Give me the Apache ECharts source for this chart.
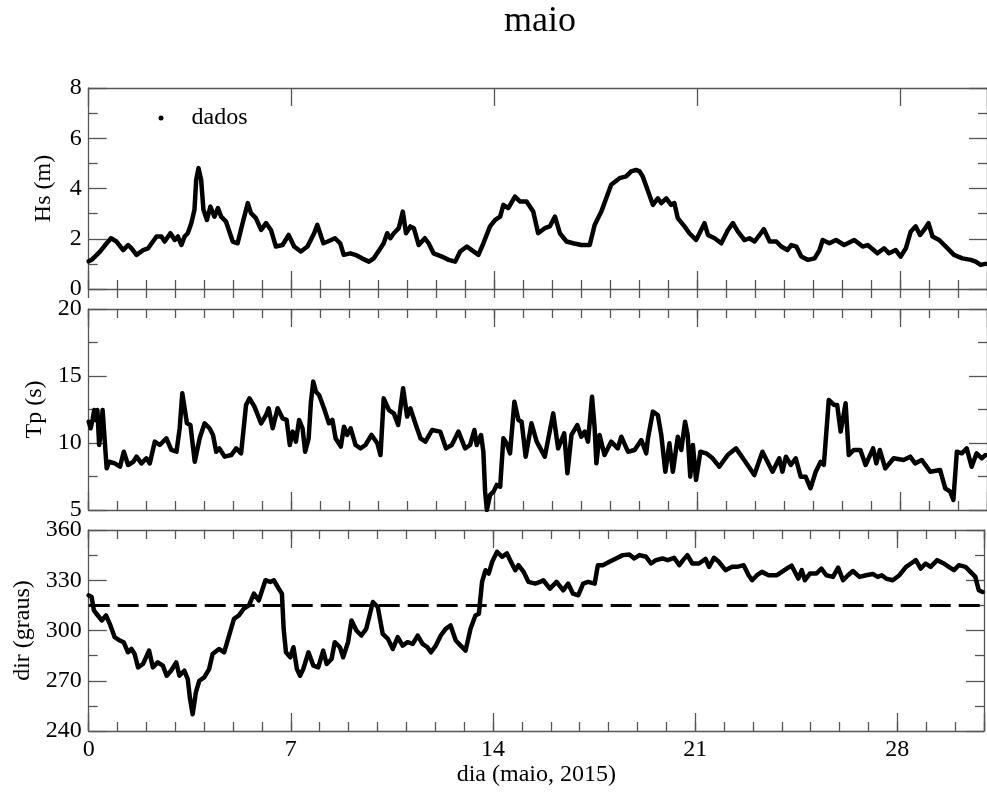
<!DOCTYPE html>
<html>
<head>
<meta charset="utf-8">
<script src="https://cdn.jsdelivr.net/npm/echarts@6/dist/echarts.min.js"></script>
<style>
html,body{margin:0;padding:0;background:#fff;}
#chart{width:987px;height:794px;}
</style>
</head>
<body>
<div id="chart"></div>
<script>
// ---- data (day of May 2015, value) ----
const hsPoints = [[0,1.1],[0.1,1.16],[0.39,1.49],[0.62,1.82],[0.77,2.02],[0.96,1.89],[1.19,1.55],[1.36,1.75],[1.48,1.62],[1.65,1.36],[1.88,1.55],[2.05,1.62],[2.34,2.09],[2.51,2.09],[2.62,1.89],[2.82,2.22],[2.97,1.95],[3.08,2.09],[3.2,1.75],[3.31,2.09],[3.42,2.22],[3.54,2.62],[3.65,3.15],[3.71,4.35],[3.79,4.81],[3.88,4.35],[3.96,3.15],[4.08,2.75],[4.2,3.28],[4.34,2.88],[4.46,3.22],[4.57,2.88],[4.74,2.68],[4.97,1.89],[5.14,1.82],[5.31,2.62],[5.49,3.42],[5.6,3.02],[5.77,2.82],[5.95,2.35],[6.12,2.62],[6.29,2.35],[6.46,1.69],[6.69,1.75],[6.9,2.15],[7.09,1.69],[7.32,1.49],[7.55,1.69],[7.78,2.22],[7.89,2.55],[7.95,2.49],[8.1,1.82],[8.25,1.89],[8.5,2.02],[8.68,1.82],[8.8,1.36],[9.03,1.42],[9.2,1.36],[9.43,1.22],[9.67,1.09],[9.84,1.22],[10.07,1.62],[10.18,1.82],[10.3,2.22],[10.41,2.02],[10.53,2.22],[10.7,2.42],[10.84,3.08],[10.95,2.22],[11.1,2.49],[11.22,2.42],[11.39,1.75],[11.6,2.02],[11.73,1.82],[11.9,1.42],[12.19,1.29],[12.42,1.16],[12.65,1.09],[12.82,1.49],[13.05,1.69],[13.22,1.55],[13.45,1.36],[13.62,1.82],[13.85,2.49],[14.03,2.75],[14.2,2.88],[14.31,3.35],[14.48,3.22],[14.71,3.68],[14.89,3.48],[15.11,3.48],[15.34,3.08],[15.51,2.22],[15.74,2.42],[15.91,2.49],[16.09,2.88],[16.26,2.22],[16.49,1.89],[16.72,1.82],[17.0,1.75],[17.29,1.75],[17.46,2.55],[17.69,3.08],[17.86,3.61],[18.03,4.15],[18.32,4.41],[18.55,4.48],[18.72,4.68],[18.89,4.74],[19.01,4.68],[19.12,4.48],[19.3,3.9],[19.47,3.35],[19.64,3.61],[19.76,3.42],[19.93,3.61],[20.1,3.35],[20.21,3.42],[20.33,2.82],[20.56,2.49],[20.73,2.22],[20.96,1.95],[21.08,2.22],[21.25,2.62],[21.37,2.15],[21.6,2.02],[21.83,1.82],[22.06,2.35],[22.23,2.62],[22.4,2.29],[22.63,1.95],[22.8,2.02],[22.98,1.89],[23.15,2.15],[23.3,2.38],[23.5,1.89],[23.73,1.89],[23.9,1.69],[24.11,1.55],[24.25,1.75],[24.42,1.69],[24.59,1.29],[24.82,1.16],[25.05,1.22],[25.22,1.55],[25.33,1.95],[25.56,1.82],[25.79,1.95],[26.07,1.75],[26.42,1.95],[26.71,1.69],[26.88,1.75],[27.22,1.42],[27.45,1.62],[27.62,1.42],[27.85,1.55],[28.02,1.29],[28.2,1.62],[28.37,2.29],[28.54,2.49],[28.69,2.15],[28.83,2.35],[28.98,2.62],[29.12,2.09],[29.35,1.95],[29.58,1.69],[29.86,1.36],[30.15,1.22],[30.44,1.16],[30.61,1.09],[30.78,0.96],[30.95,1.0]];

const tpPoints = [[0,11.59],[0.07,11.1],[0.14,11.84],[0.19,12.46],[0.25,11.7],[0.3,12.46],[0.36,9.85],[0.42,10.85],[0.48,12.46],[0.54,12.34],[0.62,8.11],[0.71,8.6],[0.9,8.48],[1.08,8.23],[1.21,9.35],[1.36,8.36],[1.54,8.6],[1.65,8.98],[1.82,8.48],[1.99,8.86],[2.11,8.48],[2.28,10.1],[2.45,9.85],[2.68,10.35],[2.85,9.48],[3.03,9.35],[3.14,11.1],[3.23,13.71],[3.31,12.59],[3.39,11.47],[3.51,11.34],[3.66,8.6],[3.83,10.35],[4.0,11.47],[4.17,11.1],[4.29,10.6],[4.4,9.35],[4.51,9.6],[4.69,8.98],[4.92,9.1],[5.09,9.6],[5.26,9.23],[5.43,12.84],[5.55,13.33],[5.72,12.71],[5.95,11.47],[6.12,12.09],[6.21,12.59],[6.35,11.1],[6.52,12.59],[6.69,11.84],[6.83,11.72],[6.94,9.85],[7.04,10.85],[7.15,10.1],[7.26,11.72],[7.38,11.1],[7.47,9.35],[7.59,10.35],[7.67,13.08],[7.75,14.58],[7.84,13.83],[7.95,13.58],[8.12,12.59],[8.29,11.47],[8.41,11.72],[8.52,10.35],[8.7,9.73],[8.81,11.22],[8.92,10.6],[9.04,11.1],[9.21,9.85],[9.38,9.6],[9.55,9.85],[9.76,10.6],[9.96,9.98],[10.07,9.1],[10.18,13.33],[10.36,12.46],[10.53,12.21],[10.68,11.34],[10.85,14.08],[10.99,11.97],[11.1,12.59],[11.27,11.47],[11.45,10.35],[11.62,10.1],[11.85,10.97],[12.13,10.85],[12.33,9.6],[12.53,9.85],[12.76,10.85],[12.99,9.6],[13.16,9.85],[13.31,10.97],[13.39,9.85],[13.54,10.6],[13.62,9.35],[13.68,6.37],[13.74,5.0],[13.85,6.12],[13.97,6.37],[14.08,6.87],[14.2,6.74],[14.31,10.35],[14.42,9.98],[14.54,9.23],[14.69,13.08],[14.83,11.72],[14.94,11.59],[15.08,8.98],[15.28,11.47],[15.46,10.1],[15.74,8.98],[16.03,12.21],[16.2,9.6],[16.41,10.72],[16.52,7.74],[16.66,10.6],[16.86,11.34],[17.0,10.47],[17.12,10.85],[17.23,10.1],[17.37,13.46],[17.46,11.1],[17.52,8.48],[17.63,10.6],[17.8,9.1],[18.03,10.1],[18.26,9.6],[18.38,10.47],[18.61,9.35],[18.84,9.48],[19.07,10.22],[19.24,9.23],[19.3,10.35],[19.47,12.34],[19.64,12.09],[19.76,10.6],[19.9,7.86],[20.04,9.98],[20.16,7.86],[20.33,10.47],[20.45,9.48],[20.58,11.59],[20.67,10.6],[20.76,7.49],[20.85,9.85],[20.96,7.24],[21.11,9.35],[21.31,9.23],[21.53,8.86],[21.76,8.23],[22.05,9.1],[22.34,9.6],[22.62,8.73],[22.97,7.61],[23.25,9.35],[23.6,7.86],[23.83,8.86],[23.94,7.86],[24.06,8.98],[24.23,8.36],[24.4,8.86],[24.57,7.49],[24.74,7.49],[24.91,6.62],[25.09,7.86],[25.26,8.6],[25.37,8.36],[25.54,13.21],[25.72,12.84],[25.83,12.84],[25.95,10.85],[26.12,12.96],[26.23,9.1],[26.4,9.48],[26.63,9.48],[26.81,8.36],[27.07,9.6],[27.18,8.48],[27.3,9.48],[27.49,8.11],[27.78,8.86],[28.12,8.73],[28.35,8.98],[28.52,8.48],[28.75,8.73],[29.04,7.86],[29.38,7.99],[29.56,6.62],[29.73,6.37],[29.84,5.75],[29.96,9.35],[30.13,9.23],[30.3,9.6],[30.47,8.23],[30.64,9.23],[30.82,8.86],[30.95,9.1]];

const dirPoints = [[0,321],[0.1,320],[0.18,312],[0.27,310],[0.45,306],[0.6,309],[0.73,304],[0.9,296],[1.08,294],[1.21,293],[1.36,287],[1.48,289],[1.59,286],[1.71,278],[1.88,280],[2.09,288],[2.22,278],[2.39,281],[2.57,279],[2.7,273],[2.85,276],[3.03,281],[3.14,273],[3.31,276],[3.43,271],[3.51,259],[3.6,250],[3.71,263],[3.83,270],[4.0,272],[4.17,277],[4.29,286],[4.51,289],[4.69,287],[4.86,297],[5.03,307],[5.2,309],[5.37,313],[5.55,315],[5.72,322],[5.89,318],[6.12,330],[6.29,329],[6.41,330],[6.58,325],[6.69,322],[6.75,301],[6.83,287],[6.98,284],[7.09,290],[7.21,277],[7.32,273],[7.43,277],[7.61,287],[7.78,279],[7.95,278],[8.12,288],[8.24,280],[8.41,283],[8.52,293],[8.7,290],[8.81,284],[8.98,293],[9.1,306],[9.27,300],[9.44,297],[9.61,301],[9.84,317],[10.01,314],[10.18,298],[10.36,295],[10.53,289],[10.7,296],[10.87,291],[11.04,293],[11.22,292],[11.39,297],[11.56,292],[11.73,290],[11.85,287],[12.02,291],[12.19,297],[12.36,301],[12.53,303],[12.71,294],[12.88,291],[13.05,288],[13.22,301],[13.39,309],[13.51,310],[13.62,329],[13.74,336],[13.85,334],[13.97,341],[14.14,347],[14.31,344],[14.48,346],[14.65,340],[14.77,336],[14.88,339],[15.06,335],[15.23,329],[15.46,328],[15.63,329],[15.74,330],[15.97,325],[16.2,329],[16.43,324],[16.6,328],[16.77,322],[16.95,321],[17.12,328],[17.29,329],[17.52,328],[17.63,339],[17.8,339],[18.03,341],[18.26,343],[18.49,345],[18.72,345.4],[18.89,343],[19.07,345],[19.3,344],[19.47,340],[19.64,342],[19.87,343],[20.04,342],[20.27,343.4],[20.45,339],[20.58,342],[20.73,345],[20.9,340],[21.13,340],[21.36,342.7],[21.48,338],[21.65,343.4],[21.82,341],[22.05,336],[22.28,338],[22.45,338],[22.68,339],[22.85,333],[22.97,330],[23.14,333],[23.31,335],[23.54,333],[23.83,333],[24.0,335],[24.17,337],[24.34,338.7],[24.57,331],[24.69,336],[24.8,330],[24.97,334],[25.2,334],[25.37,337],[25.54,333],[25.77,332],[25.95,337.5],[26.12,330],[26.29,333],[26.46,335.5],[26.69,332],[26.92,333],[27.15,333.7],[27.32,332],[27.46,333],[27.61,331],[27.84,330],[28.07,333],[28.3,338],[28.47,340],[28.64,342],[28.81,337],[28.98,340],[29.15,338],[29.38,342],[29.61,340],[29.78,338],[29.96,336],[30.13,339],[30.36,338],[30.59,334],[30.7,332],[30.82,324],[30.95,323]];

const refDir = 315;                  // dashed reference direction
const xTicksMajor = [0, 7, 14, 21, 28];
const panelNames = ['Hs (m)', 'Tp (s)', 'dir (graus)'];
const yRanges = [[0, 8, 2], [5, 20, 5], [240, 360, 30]];
const titleText = 'maio';
const xName = 'dia (maio, 2015)';
const legendName = 'dados';

// ---- layout / style ----
const FONT = 'Liberation Serif';
const AXIS_COLOR = '#555';
const gridTops = [88, 309, 530];
const gridH = 201;
const gridLeft = 88.7;
const gridRight = -3.8;
const yNameGaps = [33, 42, 54];

const grids = gridTops.map(t => ({ left: gridLeft, right: gridRight, top: t, height: gridH, containLabel: false }));

const xAxes = [];
const yAxes = [];
gridTops.forEach((t, g) => {
  ['bottom', 'top'].forEach(pos => {
    const isLabelAxis = (g === 2 && pos === 'bottom');
    xAxes.push({
      type: 'value', gridIndex: g, position: pos, min: 0, max: 31, interval: 7,
      axisLine: { show: true, onZero: false, lineStyle: { color: AXIS_COLOR, width: 1.3 } },
      axisTick: { show: true, inside: true, length: 18, lineStyle: { color: AXIS_COLOR, width: 1.3 } },
      axisLabel: {
        show: isLabelAxis, margin: 7, color: '#000', fontFamily: FONT, fontSize: 24,
        formatter: v => (xTicksMajor.indexOf(v) >= 0 ? String(v) : '')
      },
      splitLine: { show: false },
      name: isLabelAxis ? xName : '',
      nameLocation: 'middle', nameGap: 22,
      nameTextStyle: { color: '#000', fontFamily: FONT, fontSize: 24 }
    });
    xAxes.push({
      type: 'value', gridIndex: g, position: pos, min: 0, max: 31, interval: 1,
      axisLine: { show: false },
      axisTick: { show: true, inside: true, length: 9, lineStyle: { color: AXIS_COLOR, width: 1.3 } },
      axisLabel: { show: false },
      splitLine: { show: false }
    });
  });
  const [mn, mx, iv] = yRanges[g];
  ['left', 'right'].forEach(pos => {
    yAxes.push({
      type: 'value', gridIndex: g, position: pos, min: mn, max: mx, interval: iv,
      axisLine: { show: true, onZero: false, lineStyle: { color: AXIS_COLOR, width: 1.3 } },
      axisTick: { show: true, inside: true, length: 18, lineStyle: { color: AXIS_COLOR, width: 1.3 } },
      minorTick: { show: true, splitNumber: 2, length: 9, lineStyle: { color: AXIS_COLOR, width: 1.3 } },
      axisLabel: { show: pos === 'left', margin: 7, color: '#000', fontFamily: FONT, fontSize: 24 },
      splitLine: { show: false },
      minorSplitLine: { show: false },
      name: pos === 'left' ? panelNames[g] : '',
      nameLocation: 'middle', nameGap: yNameGaps[g],
      nameTextStyle: { color: '#000', fontFamily: FONT, fontSize: 24 }
    });
  });
});

const lineStyle = { color: '#000', width: 4.5, join: 'round', cap: 'round' };
const series = [
  { name: legendName, type: 'line', xAxisIndex: 0, yAxisIndex: 0, data: hsPoints, showSymbol: false, symbol: 'circle', symbolSize: 5, itemStyle: { color: '#000' }, lineStyle, animation: false },
  { name: 'Tp', type: 'line', xAxisIndex: 4, yAxisIndex: 2, data: tpPoints, showSymbol: false, itemStyle: { color: '#000' }, lineStyle, animation: false },
  { name: 'dir', type: 'line', xAxisIndex: 8, yAxisIndex: 4, data: dirPoints, showSymbol: false, itemStyle: { color: '#000' }, lineStyle, animation: false,
    markLine: { silent: true, symbol: ['none', 'none'], label: { show: false },
      lineStyle: { color: '#000', type: [21, 8], width: 3 },
      data: [{ yAxis: refDir }] } }
];

const option = {
  backgroundColor: '#fff',
  animation: false,
  grid: grids,
  xAxis: xAxes,
  yAxis: yAxes,
  legend: {
    data: [legendName], left: 153.5, top: 101, icon: 'circle', itemWidth: 51, itemHeight: 5,
    textStyle: { color: '#000', fontFamily: FONT, fontSize: 24 }, selectedMode: false
  },
  graphic: [{
    type: 'text', x: 540, y: 22,
    style: { text: titleText, font: '36px "Liberation Serif"', fill: '#000', textAlign: 'center', textVerticalAlign: 'middle' }
  }],
  series
};

const chart = echarts.init(document.getElementById('chart'), null, { renderer: 'canvas' });
chart.setOption(option);
</script>
</body>
</html>
